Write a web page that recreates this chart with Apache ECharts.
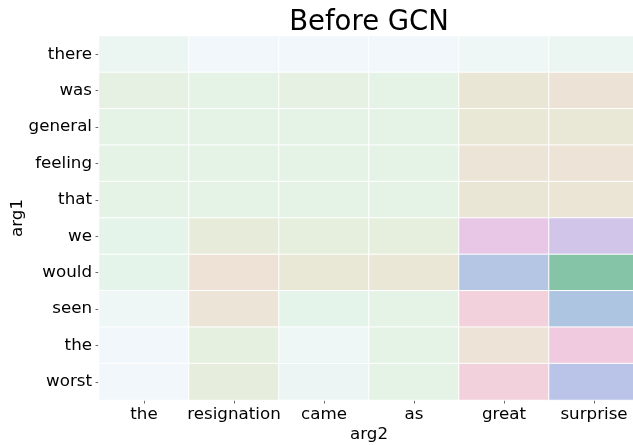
<!DOCTYPE html>
<html>
<head>
<meta charset="utf-8">
<script src="https://cdn.jsdelivr.net/npm/echarts@6/dist/echarts.min.js"></script>
<style>html,body{margin:0;padding:0;background:#fff}#c{width:633px;height:445px}</style>
</head>
<body>
<div id="c"></div>
<script>
const arg2Labels = ['the', 'resignation', 'came', 'as', 'great', 'surprise'];
const arg1Labels = ['there', 'was', 'general', 'feeling', 'that', 'we', 'would', 'seen', 'the', 'worst'];
// attention scores (arbitrary units), one row per arg1 token
const rowThere   = [2, 0, 0, 0, 1, 2];
const rowWas     = [4.5, 4, 4.5, 4, 6.8, 7.7];
const rowGeneral = [4, 4, 4, 4, 6.3, 6.3];
const rowFeeling = [4, 4, 4, 4, 7.2, 7.6];
const rowThat    = [4, 4, 4, 4, 6.8, 7];
const rowWe      = [3.4, 5.6, 5, 5, 11, 12];
const rowWould   = [3.4, 8, 6.3, 6.6, 14, 16];
const rowSeen    = [1, 7.3, 3.5, 4, 9, 15];
const rowThe     = [0, 4.7, 1, 4, 7.5, 10];
const rowWorst   = [0, 5.3, 1.8, 4, 9, 13];
const rows = [rowThere, rowWas, rowGeneral, rowFeeling, rowThat, rowWe, rowWould, rowSeen, rowThe, rowWorst];

const data = [];
rows.forEach((r, yi) => r.forEach((v, xi) => data.push([xi, yi, v])));

const font = 'DejaVu Sans';
const chart = echarts.init(document.getElementById('c'), null, {renderer: 'canvas'});
chart.setOption({
  animation: false,
  backgroundColor: '#fff',
  title: {
    text: 'Before GCN', left: 364, top: 4, textAlign: 'center',
    textStyle: {fontFamily: font, fontSize: 27.5, fontWeight: 'normal', color: '#000'}
  },
  grid: {left: 99, width: 540, top: 36, height: 364, containLabel: false, outerBoundsMode: 'none'},
  xAxis: {
    type: 'category', data: arg2Labels,
    name: 'arg2', nameLocation: 'middle', nameGap: 26, nameMoveOverlap: false,
    nameTextStyle: {fontFamily: font, fontSize: 16.7, color: '#000'},
    axisLine: {show: false},
    axisTick: {show: true, alignWithLabel: true, length: 3.5, lineStyle: {color: '#444', width: 0.8}},
    axisLabel: {fontFamily: font, fontSize: 16.7, color: '#000', margin: 6, interval: 0},
    splitLine: {show: false}
  },
  yAxis: {
    type: 'category', data: arg1Labels, inverse: true,
    name: 'arg1', nameLocation: 'middle', nameGap: 73, nameRotate: 90, nameMoveOverlap: false,
    nameTextStyle: {fontFamily: font, fontSize: 16.7, color: '#000'},
    axisLine: {show: false},
    axisTick: {show: true, alignWithLabel: true, length: 3.5, lineStyle: {color: '#444', width: 0.8}},
    axisLabel: {fontFamily: font, fontSize: 16.7, color: '#000', margin: 7, interval: 0},
    splitLine: {show: false}
  },
  visualMap: {
    show: false, min: 0, max: 16, dimension: 2,
    inRange: {color: ['#f2f7fb', '#eef7f6', '#ebf5f2', '#e5f5ec', '#e5f3e7', '#e6efde', '#e8e9d8', '#ebe5d6', '#eee1d6', '#f2d1dc', '#f0cbe0', '#e8c6e6', '#d1c5ea', '#bac4e8', '#b4c6e4', '#aec5e2', '#86c4a8']}
  },
  series: [{
    type: 'heatmap', data: data,
    itemStyle: {borderColor: '#ffffff', borderWidth: 1},
    emphasis: {disabled: true}
  }]
});
</script>
</body>
</html>
